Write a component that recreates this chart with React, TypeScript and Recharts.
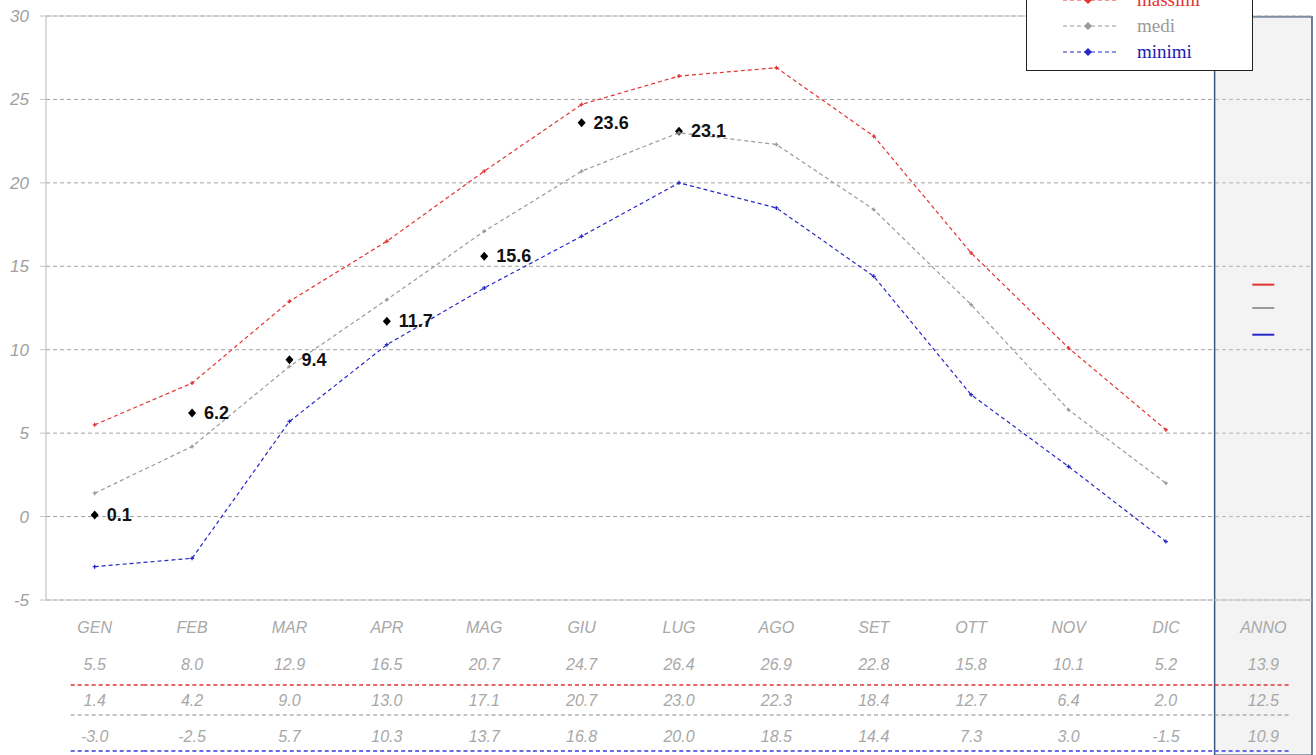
import React from 'react';
import {
  ComposedChart,
  Line,
  Scatter,
  XAxis,
  YAxis,
  CartesianGrid,
  ReferenceArea,
  ReferenceLine,
  Legend,
} from 'recharts';

// ---------- data ----------
const months = ['GEN', 'FEB', 'MAR', 'APR', 'MAG', 'GIU', 'LUG', 'AGO', 'SET', 'OTT', 'NOV', 'DIC'];
const annualLabel = 'ANNO';
const maxTemps = [5.5, 8.0, 12.9, 16.5, 20.7, 24.7, 26.4, 26.9, 22.8, 15.8, 10.1, 5.2];
const medTemps = [1.4, 4.2, 9.0, 13.0, 17.1, 20.7, 23.0, 22.3, 18.4, 12.7, 6.4, 2.0];
const minTemps = [-3.0, -2.5, 5.7, 10.3, 13.7, 16.8, 20.0, 18.5, 14.4, 7.3, 3.0, -1.5];
const annualMax = 13.9;
const annualMed = 12.5;
const annualMin = 10.9;
const seaTemps = [0.1, 6.2, 9.4, 11.7, 15.6, 23.6, 23.1];
const yTicks = [-5, 0, 5, 10, 15, 20, 25, 30];
const seriesNames = ['massimi', 'medi', 'minimi'];

const categories = [...months, annualLabel];
const xTicks = categories.map((_, i) => i + 1);
const annualIdx = categories.length;

const data = months.map((m, i) => ({ idx: i + 1, max: maxTemps[i], med: medTemps[i], min: minTemps[i] }));
const seaData = seaTemps.map((v, i) => ({ idx: i + 1, sea: v }));
const annualMaxData = [{ idx: annualIdx, val: annualMax }];
const annualMedData = [{ idx: annualIdx, val: annualMed }];
const annualMinData = [{ idx: annualIdx, val: annualMin }];
const tableRows = [
  [...maxTemps, annualMax],
  [...medTemps, annualMed],
  [...minTemps, annualMin],
];

// ---------- styles ----------
const RED = '#e23232';
const GRAY = '#9a9a9a';
const BLUE = '#2828c8';
const TEXT_GRAY = '#a8a8a8';
const SANS = '"Liberation Sans", Arial, sans-serif';
const SERIF = '"Liberation Serif", "Times New Roman", serif';
const HALF = 48.7;
const rowColors = [RED, '#8a8a8a', '#6a6ae0'];
const rowDash = ['4 3', '4 3', '4 3'];
const rowWidth = [1.5, 1, 2];

const makeDot = (color: string) => (p: any) => {
  const { cx, cy, index } = p;
  if (cx == null || cy == null) return <g key={`d-${index}`} />;
  return (
    <path
      key={`d-${index}`}
      d={`M${cx - 2},${cy} L${cx + 2},${cy} M${cx},${cy - 2} L${cx},${cy + 2}`}
      stroke={color}
      strokeWidth={1.3}
    />
  );
};

const SeaShape = (p: any) => {
  const { cx, cy, payload } = p;
  return (
    <g>
      <path d={`M${cx},${cy - 4.5} L${cx + 4},${cy} L${cx},${cy + 4.5} L${cx - 4},${cy} Z`} fill="#000" />
      <text
        x={cx + 12}
        y={cy}
        dominantBaseline="central"
        fontFamily={SANS}
        fontWeight="bold"
        fontSize={18}
        fill="#111"
      >
        {payload.sea.toFixed(1)}
      </text>
    </g>
  );
};

const makeAnnualShape = (color: string) => (p: any) => {
  const { cx, cy } = p;
  return <line x1={cx - 11} x2={cx + 11} y1={cy} y2={cy} stroke={color} strokeWidth={2} />;
};

const TableTick = (props: any) => {
  const { x, y, payload } = props;
  const i = Math.round(payload.value) - 1;
  if (i < 0 || i >= categories.length) return null;
  const isFirst = i === 0;
  const isLast = i === categories.length - 1;
  const x0 = isFirst ? x - 24 : x - HALF;
  const x1 = isLast ? x + 27 : x + HALF;
  const rowY = [64, 100, 136];
  const lineY = [85, 115, 151];
  return (
    <g>
      <text
        x={x}
        y={y + 27}
        textAnchor="middle"
        dominantBaseline="central"
        fontFamily={SANS}
        fontStyle="italic"
        fontSize={16}
        fill={TEXT_GRAY}
      >
        {categories[i]}
      </text>
      {tableRows.map((row, r) => (
        <text
          key={`v-${r}`}
          x={x}
          y={y + rowY[r]}
          textAnchor="middle"
          dominantBaseline="central"
          fontFamily={SANS}
          fontStyle="italic"
          fontSize={16}
          fill={TEXT_GRAY}
        >
          {row[i].toFixed(1)}
        </text>
      ))}
      {rowColors.map((c, r) => (
        <line
          key={`l-${r}`}
          x1={x0}
          x2={x1}
          y1={y + lineY[r]}
          y2={y + lineY[r]}
          stroke={c}
          strokeWidth={rowWidth[r]}
          strokeDasharray={rowDash[r]}
        />
      ))}
    </g>
  );
};

const legendColors = [RED, GRAY, BLUE];
const legendTextColors = [RED, GRAY, '#1c1cb0'];

const LegendBox = () => (
  <div
    style={{
      width: 227,
      height: 85,
      boxSizing: 'border-box',
      border: '1.5px solid #222',
      background: '#fff',
      paddingTop: 0,
    }}
  >
    {seriesNames.map((n, i) => (
      <div key={n} style={{ height: 26, display: 'flex', alignItems: 'center' }}>
        <svg width={56} height={12} style={{ marginLeft: 36, flex: 'none' }}>
          <line x1={0} x2={56} y1={6} y2={6} stroke={legendColors[i]} strokeWidth={1.2} strokeDasharray="4 3" />
          <path d="M25,2 L29,6 L25,10 L21,6 Z" fill={legendColors[i]} />
        </svg>
        <span
          style={{
            marginLeft: 18,
            fontFamily: SERIF,
            fontSize: 19,
            color: legendTextColors[i],
            lineHeight: '26px',
          }}
        >
          {n}
        </span>
      </div>
    ))}
  </div>
);

export default function App() {
  return (
    <div style={{ position: 'absolute', left: 0, top: -20 }}>
      <ComposedChart
        width={1316}
        height={775}
        data={data}
        margin={{ top: 36, right: 4, bottom: 0, left: 0 }}
      >
        <CartesianGrid vertical={false} stroke="#a0a0a0" strokeDasharray="4 3" />
        <ReferenceArea
          x1={annualIdx - 0.5}
          x2={annualIdx + 0.5}
          y1={-14.3}
          y2={29.95}
          ifOverflow="visible"
          fill="#dcdcdc"
          fillOpacity={0.35}
          stroke="#3c5878"
          strokeWidth={1.5}
        />
        <ReferenceLine y={30} stroke="#c4c4c4" strokeWidth={1.2} />
        <XAxis
          dataKey="idx"
          type="number"
          domain={[0.5, categories.length + 0.5]}
          ticks={xTicks}
          interval={0}
          height={155}
          tickLine={false}
          tickSize={0}
          tickMargin={0}
          axisLine={{ stroke: '#c4c4c4', strokeWidth: 1.2 }}
          tick={<TableTick />}
          allowDataOverflow
        />
        <YAxis
          type="number"
          domain={[-5, 30]}
          ticks={yTicks}
          allowDataOverflow
          width={46}
          tickSize={6}
          tickMargin={11}
          tickLine={{ stroke: '#c4c4c4' }}
          axisLine={{ stroke: '#c4c4c4', strokeWidth: 1.2 }}
          tick={{ fontFamily: SANS, fontStyle: 'italic', fontSize: 17, fill: '#a0a0a0' }}
        />
        <Line
          dataKey="max"
          name={seriesNames[0]}
          stroke={RED}
          strokeWidth={1.2}
          strokeDasharray="4 3"
          dot={makeDot(RED)}
          activeDot={false}
          isAnimationActive={false}
        />
        <Line
          dataKey="med"
          name={seriesNames[1]}
          stroke={GRAY}
          strokeWidth={1.2}
          strokeDasharray="4 3"
          dot={makeDot(GRAY)}
          activeDot={false}
          isAnimationActive={false}
        />
        <Line
          dataKey="min"
          name={seriesNames[2]}
          stroke={BLUE}
          strokeWidth={1.2}
          strokeDasharray="4 3"
          dot={makeDot(BLUE)}
          activeDot={false}
          isAnimationActive={false}
        />
        <Scatter data={seaData} dataKey="sea" shape={SeaShape} isAnimationActive={false} legendType="none" />
        <Scatter data={annualMaxData} dataKey="val" shape={makeAnnualShape(RED)} isAnimationActive={false} legendType="none" />
        <Scatter data={annualMedData} dataKey="val" shape={makeAnnualShape(GRAY)} isAnimationActive={false} legendType="none" />
        <Scatter data={annualMinData} dataKey="val" shape={makeAnnualShape(BLUE)} isAnimationActive={false} legendType="none" />
        <Legend
          layout="horizontal"
          verticalAlign="middle"
          align="center"
          wrapperStyle={{ position: 'absolute', left: 1026, top: 6, width: 227 }}
          content={<LegendBox />}
        />
      </ComposedChart>
    </div>
  );
}
